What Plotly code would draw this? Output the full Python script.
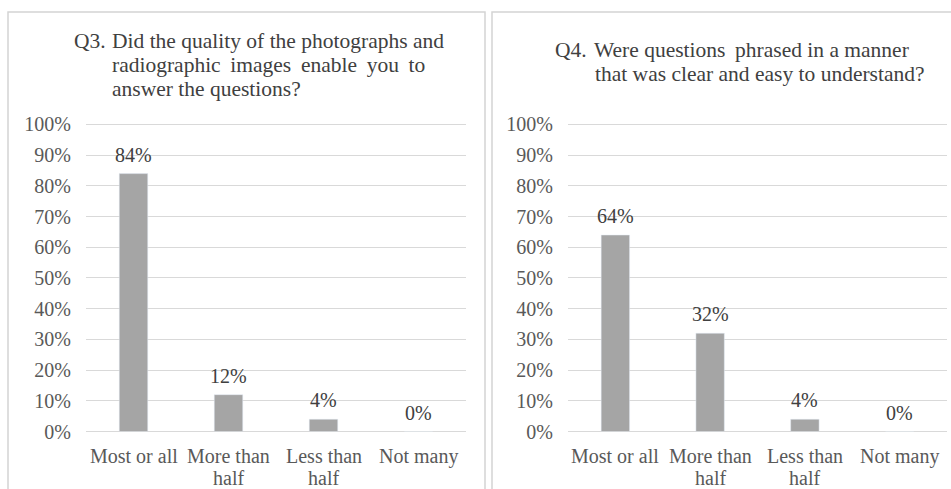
import plotly.graph_objects as go

# ---- data ----
categories = ["Most or all", "More than<br>half", "Less than<br>half", "Not many"]
q3_values = [84, 12, 4, 0]
q4_values = [64, 32, 4, 0]
y_ticks = [0, 10, 20, 30, 40, 50, 60, 70, 80, 90, 100]
y_tick_text = [f"{v}%" for v in y_ticks]
q3_title_lead = "Q3."
q3_title_lines = ["Did the quality of the photographs and",
                  "radiographic \u2009images \u2009enable \u2009you \u2009to",
                  "answer the questions?"]
q4_title_lead = "Q4."
q4_title_lines = ["Were questions \u2009phrased in a manner",
                  "that was clear and easy to understand?"]

W, H = 951, 489
def px(x):
    return x / W
def py(y):
    return 1 - y / H

FONT = "Liberation Serif, Times New Roman, serif"
BAR = "#a5a5a5"
GRID = "#d9d9d9"
TXT = "#404040"
TICK = "#595959"

fig = go.Figure()
fig.add_trace(go.Bar(x=categories, y=q3_values, marker_color=BAR, xaxis="x", yaxis="y",
                     hoverinfo="skip", showlegend=False))
fig.add_trace(go.Bar(x=categories, y=q4_values, marker_color=BAR, xaxis="x2", yaxis="y2",
                     hoverinfo="skip", showlegend=False))

# 0% at 431.5 px, 100% at 124.5 px; range extends slightly above 100 so its gridline is drawn
ydom = [py(431.5), py(121.4)]
yax = dict(range=[0, 101], tickmode="array", tickvals=y_ticks, ticktext=y_tick_text,
           showgrid=True, gridcolor=GRID, automargin=False,
           gridwidth=1, zeroline=True, zerolinecolor=GRID, zerolinewidth=1, showline=False,
           ticks="", ticklabelstandoff=14, tickfont=dict(family=FONT, size=20, color=TICK),
           domain=ydom, fixedrange=True)
xax = dict(showticklabels=False, showline=False, showgrid=False, zeroline=False, ticks="",
           automargin=False)

fig.update_layout(
    width=W, height=H,
    margin=dict(l=0, r=0, t=0, b=0, pad=0, autoexpand=False),
    paper_bgcolor="white", plot_bgcolor="white",
    bargap=0.7,
    xaxis=dict(xax, domain=[px(86), px(466)], anchor="y"),
    yaxis=dict(yax, anchor="x"),
    xaxis2=dict(xax, domain=[px(568), px(947)], anchor="y2"),
    yaxis2=dict(yax, anchor="x2"),
    font=dict(family=FONT),
)

annotations = []
# data labels
for xa, ya, vals in (("x", "y", q3_values), ("x2", "y2", q4_values)):
    for c, v in zip(categories, vals):
        annotations.append(dict(x=c, y=v, xref=xa, yref=ya, text=f"{v}%", showarrow=False,
                                yanchor="bottom", yshift=6,
                                font=dict(family=FONT, size=20, color=TXT)))
    # category labels (multi-line)
    for c in categories:
        for i, line in enumerate(c.split("<br>")):
            annotations.append(dict(x=c, xref=xa, y=py(456 + 22 * i), yref="paper", text=line,
                                    showarrow=False, yanchor="middle",
                                    font=dict(family=FONT, size=20, color=TICK)))

TSIZE = 21.5
# titles
annotations.append(dict(x=px(72), y=py(41), xref="paper", yref="paper", text=q3_title_lead,
                        xanchor="left", yanchor="middle", showarrow=False,
                        font=dict(family=FONT, size=TSIZE, color=TXT)))
for i, line in enumerate(q3_title_lines):
    annotations.append(dict(x=px(110), y=py(41 + 24 * i), xref="paper", yref="paper", text=line,
                            xanchor="left", yanchor="middle", showarrow=False,
                            font=dict(family=FONT, size=TSIZE, color=TXT)))
annotations.append(dict(x=px(553), y=py(50), xref="paper", yref="paper", text=q4_title_lead,
                        xanchor="left", yanchor="middle", showarrow=False,
                        font=dict(family=FONT, size=TSIZE, color=TXT)))
for i, line in enumerate(q4_title_lines):
    annotations.append(dict(x=px(592 + i), y=py(50 + 24 * i), xref="paper", yref="paper", text=line,
                            xanchor="left", yanchor="middle", showarrow=False,
                            font=dict(family=FONT, size=TSIZE, color=TXT)))

fig.update_layout(annotations=annotations)

# panel borders
fig.add_shape(type="rect", xref="paper", yref="paper", x0=px(8), x1=px(485), y0=py(495), y1=py(12),
              line=dict(color="#d4d4d4", width=1.5), fillcolor="rgba(0,0,0,0)", layer="below")
fig.add_shape(type="rect", xref="paper", yref="paper", x0=px(492), x1=px(960), y0=py(495), y1=py(12),
              line=dict(color="#d4d4d4", width=1.5), fillcolor="rgba(0,0,0,0)", layer="below")

fig.write_html("out.html", config=dict(displayModeBar=False),
               post_script="document.body.style.margin='0px';document.body.style.overflow='hidden';")
